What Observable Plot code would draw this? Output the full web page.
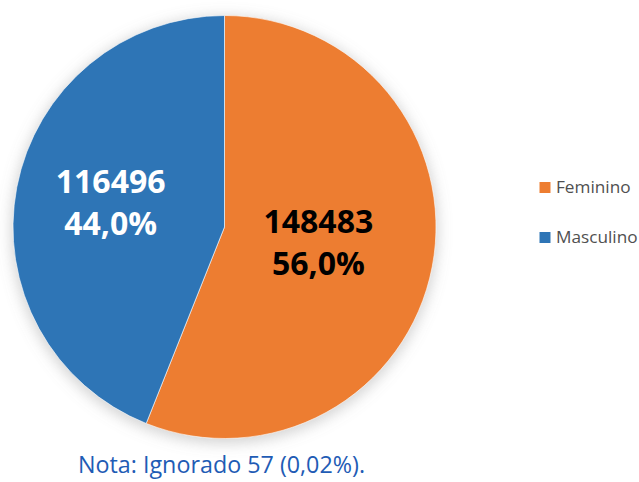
<!DOCTYPE html>
<html>
<head>
<meta charset="utf-8">
<script src="https://cdn.jsdelivr.net/npm/d3@7"></script>
<script src="https://cdn.jsdelivr.net/npm/@observablehq/plot@0.6"></script>
<style>
  html, body { margin: 0; padding: 0; background: #fff; }
  #chart svg { display: block; }
</style>
</head>
<body>
<div id="chart"></div>
<script>
const categories = ["Feminino", "Masculino"];
const values = [148483, 116496];
const percentLabels = ["56,0%", "44,0%"];
const colors = ["#ED7D31", "#2E75B6"];
const labelColors = ["#000000", "#FFFFFF"];
const noteText = "Nota: Ignorado 57 (0,02%).";

const W = 639, H = 482;
const cx = 224.5, cy = 227, R = 211.5;

const data = categories.map((c, i) => ({category: c, value: values[i], pct: percentLabels[i], color: colors[i], labelColor: labelColors[i]}));
const arcs = d3.pie().sort(null).value(d => d.value)(data);
const arcGen = d3.arc().innerRadius(0).outerRadius(R);

const labels = arcs.map(a => {
  const [x, y] = arcGen.centroid(a);
  return {x: cx + x, y: cy + y, text: `${a.data.value}\n${a.data.pct}`, color: a.data.labelColor};
});

const legend = data.map((d, i) => ({x: 544.5, y: 187 + i * 50, text: d.category, color: d.color}));

function pieMark(index, scales, vals, dims) {
  const g = d3.create("svg:g");
  const X = scales.x(cx), Y = scales.y(cy);
  const defs = g.append("defs");
  const f = defs.append("filter").attr("id", "pieShadow").attr("x", "-20%").attr("y", "-20%").attr("width", "140%").attr("height", "140%");
  f.append("feGaussianBlur").attr("stdDeviation", 7);
  g.append("circle")
    .attr("cx", X).attr("cy", Y + 3).attr("r", R + 2)
    .attr("fill", "#808080").attr("fill-opacity", 0.35)
    .attr("filter", "url(#pieShadow)");
  g.append("g").attr("transform", `translate(${X},${Y})`)
    .selectAll("path").data(arcs).join("path")
    .attr("d", arcGen)
    .attr("fill", d => d.data.color)
    .attr("stroke", "#ffffff").attr("stroke-width", 1).attr("stroke-opacity", 0.6);
  return g.node();
}

const chart = Plot.plot({
  width: W,
  height: H,
  margin: 0,
  x: {domain: [0, W], range: [0, W], axis: null},
  y: {domain: [0, H], range: [0, H], axis: null},
  style: {fontFamily: "'Open Sans', sans-serif", background: "#fff"},
  marks: [
    pieMark,
    Plot.text(labels, {x: "x", y: "y", text: "text", fill: "color", fontSize: 32, fontWeight: "bold", lineHeight: 1.32, lineAnchor: "middle", dx: -10.5, dy: -7}),
    Plot.dot(legend, {x: "x", y: "y", fill: "color", symbol: "square", r: 6.2}),
    Plot.text(legend, {x: "x", y: "y", text: "text", fill: "#505050", fontSize: 17.2, textAnchor: "start", dx: 11, dy: 0}),
    Plot.text([noteText], {x: 221, y: 465, text: d => d, fill: "#1f5cb5", fontSize: 23.3})
  ]
});
document.getElementById("chart").appendChild(chart);
</script>
</body>
</html>
